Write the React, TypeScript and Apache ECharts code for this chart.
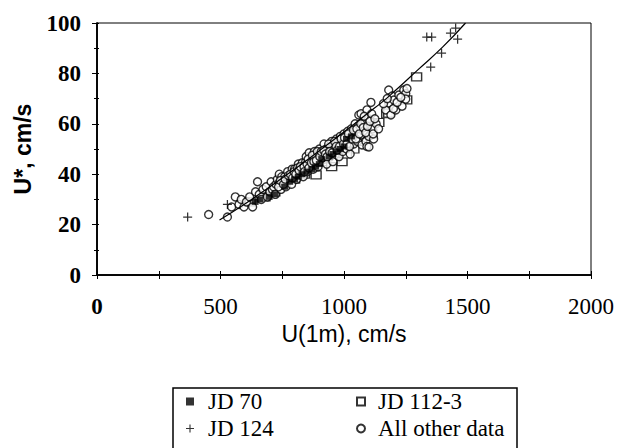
import React, { useEffect, useRef } from "react";
import * as echarts from "echarts";

const xTicks = [0, 500, 1000, 1500, 2000];
const yTicks = [0, 20, 40, 60, 80, 100];

const jd70: number[][] = [
  [640, 29], [660, 30], [697, 31], [720, 32], [760, 35], [780, 37], [800, 38],
  [830, 40], [850, 41], [870, 42], [900, 44], [910, 46], [940, 47], [970, 49],
  [1000, 51], [1010, 54], [1030, 55], [815, 39], [885, 43], [955, 48], [985, 50],
];

const jd1123: number[][] = [
  [620, 29], [680, 31], [720, 33], [760, 36], [800, 38], [840, 40], [887, 39.7],
  [930, 45], [960, 46], [992, 45], [1040, 50], [1070, 53], [1113, 56], [1141, 60.5],
  [1173, 64], [1181, 64.3], [1254, 69.5], [1294, 78.6], [1010, 48], [950, 43],
];

const jd124: number[][] = [
  [367, 23], [528, 28], [1335, 94.4], [1355, 94.4], [1431, 96], [1452, 98],
  [1460, 93.6], [1395, 88], [1351, 82.5],
];

const otherData: number[][] = [
  [452, 24], [528, 23], [545, 27], [560, 31], [575, 28], [584, 30], [595, 27],
  [605, 29], [618, 31], [630, 27], [642, 33], [650, 37], [657, 32], [665, 30],
  [672, 34], [685, 35], [690, 31], [700, 33], [705, 37], [710, 34], [715, 35],
  [722, 32], [725, 36], [730, 38], [738, 36.5], [738, 40], [745, 34], [748, 39],
  [752, 37], [760, 39], [765, 35], [768, 37], [772, 41], [780, 38], [788, 36],
  [790, 42], [795, 40], [800, 42], [808, 38], [810, 41], [815, 44], [820, 40],
  [825, 40], [827, 43], [831, 44.5], [835, 39], [842, 42], [845, 45], [847, 47],
  [852, 41], [859, 48.5], [862, 44], [865, 43], [870, 46], [875, 42], [880, 49],
  [882, 46], [885, 44], [890, 47], [895, 43], [898, 48], [900, 50], [905, 45],
  [912, 48], [915, 47], [919, 52], [922, 46], [928, 50], [930, 44], [935, 49],
  [940, 51], [945, 47], [948, 50], [950, 53], [955, 45], [958, 52], [960, 50],
  [965, 48], [970, 54], [975, 51], [978, 53], [980, 47], [985, 55], [990, 52],
  [992, 50], [995, 49], [1000, 56], [1005, 53], [1008, 55], [1010, 50], [1015, 57],
  [1020, 54], [1025, 48], [1028, 52], [1030, 58], [1035, 55], [1040, 52], [1042, 57],
  [1045, 60], [1050, 56], [1055, 53], [1058, 59], [1060, 63.5], [1065, 58],
  [1069, 64], [1069, 55.6], [1073, 51.6], [1075, 60], [1080, 57], [1085, 61],
  [1089, 53], [1093, 65.5], [1093, 51], [1100, 62], [1101, 55], [1101, 50.8],
  [1109, 68.5], [1115, 58], [1120, 54], [1130, 60], [1169, 65.5], [1181, 68.3],
  [1181, 73.4], [1190, 63.5], [1195, 71], [1202, 69.4], [1210, 65.5], [1222, 71.4],
  [1235, 67], [1242, 73.4], [1250, 72], [1250, 69.8],
  [735, 35], [742, 37.5], [755, 36], [762, 38], [775, 39.5], [783, 40], [792, 38.5],
  [798, 41], [805, 40], [812, 42.5], [818, 41.5], [823, 43], [838, 43], [840, 41],
  [850, 44], [855, 46], [858, 42.5], [868, 44.5], [872, 47.5], [878, 45], [888, 45.5],
  [892, 49], [902, 47], [908, 49], [918, 49.5], [925, 48], [932, 47], [938, 52],
  [942, 49], [952, 48.5], [962, 53], [968, 51], [972, 49.5], [982, 51], [988, 54],
  [998, 52], [1002, 54.5], [1012, 52], [1018, 56], [1022, 51], [1032, 54], [1038, 57.5],
  [1048, 54], [1052, 58], [1062, 56], [1068, 60], [1078, 58.5], [1082, 63], [1088, 56.5],
  [1095, 59], [1105, 61], [1112, 64], [1118, 56], [1125, 62], [1140, 58], [1160, 68],
  [1175, 70], [1200, 66], [1215, 68.5], [1230, 70.5], [1255, 74],
];

const fitLine: number[][] = [
  [496, 21.8], [600, 28.3], [700, 35], [800, 42], [900, 49.3], [1000, 56.8],
  [1100, 64.5], [1153, 68.5], [1200, 72.5], [1300, 81.5], [1400, 90.5], [1492, 100],
];

const serif = "Liberation Serif, Times New Roman, serif";
const sans = "Liberation Sans, Arial, sans-serif";
const plusPath = "path://M4.3,0h1.4v4.3h4.3v1.4h-4.3v4.3h-1.4v-4.3h-4.3v-1.4h4.3z";

export default function App() {
  const ref = useRef<HTMLDivElement>(null);
  useEffect(() => {
    if (!ref.current) return;
    const chart = echarts.init(ref.current, undefined, { renderer: "svg" });
    const baseX = {
      type: "value" as const,
      min: 0,
      max: 2000,
      interval: 500,
      splitLine: { show: false },
      axisLine: { onZero: false, lineStyle: { color: "#000", width: 1.5 } },
    };
    const baseY = {
      type: "value" as const,
      min: 0,
      max: 100,
      interval: 20,
      splitLine: { show: false },
      axisLine: { onZero: false, lineStyle: { color: "#000", width: 1.5 } },
    };
    chart.setOption({
      animation: false,
      backgroundColor: "#fff",
      grid: {
        left: 97,
        right: 24,
        top: 23,
        bottom: 173,
        show: true,
        borderColor: "#000",
        borderWidth: 1,
      },
      xAxis: [
        {
          ...baseX,
          name: "U(1m), cm/s",
          nameLocation: "middle",
          nameGap: 45,
          nameTextStyle: { fontFamily: sans, fontSize: 23, color: "#000" },
          axisTick: { show: true, inside: false, length: 4, lineStyle: { color: "#000" } },
          minorTick: { show: true, splitNumber: 2, length: 4, lineStyle: { color: "#000" } },
          axisLabel: {
            margin: 20,
            fontFamily: serif,
            fontSize: 23,
            color: "#000",
            formatter: (v: number) => (v === 0 ? "{b|0}" : String(v)),
            rich: { b: { fontFamily: serif, fontSize: 23, fontWeight: "bold", color: "#000" } },
          },
          data: xTicks,
        },
        {
          ...baseX,
          position: "bottom",
          axisTick: { show: true, inside: true, length: 4, lineStyle: { color: "#000" } },
          minorTick: { show: true, splitNumber: 2, length: 4, lineStyle: { color: "#000" } },
          axisLabel: { show: false },
        },
      ],
      yAxis: [
        {
          ...baseY,
          name: "U*, cm/s",
          nameLocation: "middle",
          nameGap: 63,
          nameTextStyle: { fontFamily: sans, fontSize: 23, fontWeight: "bold", color: "#000" },
          axisTick: { show: true, inside: false, length: 5, lineStyle: { color: "#000" } },
          minorTick: { show: true, splitNumber: 2, length: 3, lineStyle: { color: "#000" } },
          axisLabel: {
            margin: 16,
            fontFamily: serif,
            fontSize: 23,
            fontWeight: "bold",
            color: "#000",
          },
          data: yTicks,
        },
        {
          ...baseY,
          position: "left",
          axisTick: { show: true, inside: true, length: 2, lineStyle: { color: "#000" } },
          minorTick: { show: true, splitNumber: 2, length: 2, lineStyle: { color: "#000" } },
          axisLabel: { show: false },
        },
      ],
      legend: [
        {
          orient: "vertical",
          left: 186,
          top: 390,
          padding: 0,
          itemGap: 4,
          itemWidth: 8,
          itemHeight: 8,
          data: ["JD 70", "JD 124"],
          textStyle: { fontFamily: serif, fontSize: 23, color: "#000", lineHeight: 23, padding: [0, 0, 0, 9] },
        },
        {
          orient: "vertical",
          left: 356,
          top: 390,
          padding: 0,
          itemGap: 4,
          itemWidth: 8,
          itemHeight: 8,
          data: ["JD 112-3", "All other data"],
          textStyle: { fontFamily: serif, fontSize: 23, color: "#000", lineHeight: 23, padding: [0, 0, 0, 8] },
        },
      ],
      graphic: [
        {
          type: "rect",
          shape: { x: 173, y: 388, width: 344, height: 80 },
          style: { fill: "none", stroke: "#000", lineWidth: 1.5 },
          silent: true,
        },
      ],
      series: [
        {
          name: "JD 112-3",
          type: "scatter",
          data: jd1123,
          symbol: "rect",
          symbolSize: [10, 8],
          itemStyle: { color: "#fff", borderColor: "#000", borderWidth: 1.3 },
        },
        {
          name: "All other data",
          type: "scatter",
          data: otherData,
          symbol: "circle",
          symbolSize: 8,
          itemStyle: { color: "#fff", borderColor: "#000", borderWidth: 1.4 },
        },
        {
          name: "JD 70",
          type: "scatter",
          data: jd70,
          symbol: "rect",
          symbolSize: [7, 6],
          itemStyle: { color: "#000" },
        },
        {
          name: "JD 124",
          type: "scatter",
          data: jd124,
          symbol: plusPath,
          symbolSize: 9,
          itemStyle: { color: "#000" },
        },
        {
          name: "Fit",
          type: "line",
          data: fitLine,
          showSymbol: false,
          smooth: true,
          lineStyle: { color: "#000", width: 1.2 },
          z: 5,
        },
      ],
    });
    return () => chart.dispose();
  }, []);
  return (
    <div
      ref={ref}
      style={{ position: "fixed", left: 0, top: 0, width: 617, height: 448, background: "#fff" }}
    />
  );
}
